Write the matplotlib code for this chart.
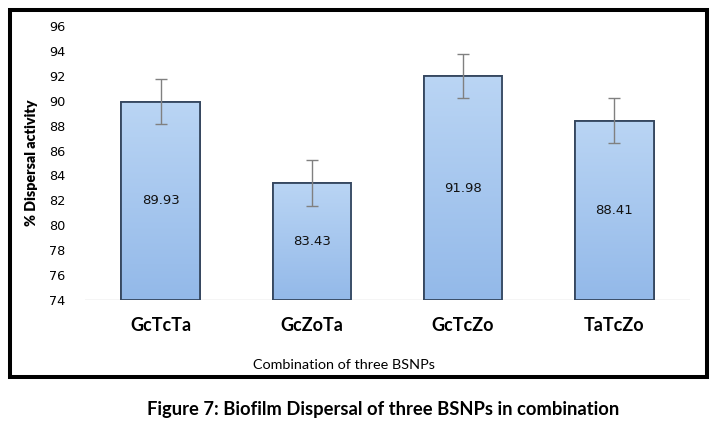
import matplotlib.pyplot as plt
import numpy as np
from matplotlib.colors import LinearSegmentedColormap
from matplotlib.patches import Rectangle

# data
categories = ["GcTcTa", "GcZoTa", "GcTcZo", "TaTcZo"]
dispersal = [89.93, 83.43, 91.98, 88.41]
errors = [1.8, 1.85, 1.8, 1.8]
y_ticks = [74, 76, 78, 80, 82, 84, 86, 88, 90, 92, 94, 96]

W, H = 716, 433


def main() -> None:
    fig = plt.figure(figsize=(W / 100, H / 100), dpi=100)
    ax = fig.add_axes([85 / W, 1 - 300 / H, 605 / W, 274 / H])

    x = np.arange(len(categories))
    bars = ax.bar(x, np.array(dispersal) - 74, bottom=74, width=0.52,
                  color="#a8c8ef", edgecolor="#34465e", linewidth=1.2, zorder=2)

    # soft vertical gradient inside each bar
    grad = np.linspace(0, 1, 256).reshape(-1, 1)
    cmap = LinearSegmentedColormap.from_list("b", ["#93b9e9", "#bad5f4"])
    for bar in bars:
        x0, y0 = bar.get_x(), bar.get_y()
        im = ax.imshow(grad, extent=[x0, x0 + bar.get_width(), y0, y0 + bar.get_height()],
                       cmap=cmap, aspect="auto", origin="lower", zorder=2.5)
        im.set_clip_path(bar)
        ax.add_patch(Rectangle((x0, y0), bar.get_width(), bar.get_height(), fill=False,
                               edgecolor="#34465e", linewidth=1.3, zorder=3))

    ax.errorbar(x, dispersal, yerr=errors, fmt="none", ecolor="#808080",
                elinewidth=1.0, capsize=4, capthick=1.0, zorder=4)

    for xi, v in zip(x, dispersal):
        ax.text(xi, (74 + v) / 2, f"{v:.2f}", ha="center", va="center",
                fontsize=9.5, family="DejaVu Sans", color="#111111", zorder=5)

    ax.set_xlim(-0.5, len(categories) - 0.5)
    ax.set_ylim(74, 96)
    ax.set_yticks(y_ticks)
    ax.set_yticklabels([str(t) for t in y_ticks], fontsize=9.3, family="DejaVu Sans")
    ax.set_xticks(x)
    ax.set_xticklabels(categories, fontsize=13, fontweight="bold", family="Lato")
    ax.tick_params(axis="both", length=0)
    ax.tick_params(axis="y", pad=14)
    ax.tick_params(axis="x", pad=12)
    for s in ax.spines.values():
        s.set_visible(False)
    ax.axhline(74, color="#d0d0d0", linewidth=1.0, zorder=1)

    fig.text(32 / W, 1 - 163 / H, "% Dispersal activity", rotation=90, ha="center",
             va="center", fontsize=10.3, fontweight="heavy", family="Lato")
    fig.text(344 / W, 1 - 365 / H, "Combination of three BSNPs", ha="center",
             va="center", fontsize=10.4, family="Lato")

    fig.patches.append(Rectangle((9.5 / W, 1 - 377 / H), 697 / W, 367 / H,
                                 transform=fig.transFigure, fill=False,
                                 edgecolor="black", linewidth=2.9))

    fig.text(383 / W, 1 - 410 / H, "Figure 7: Biofilm Dispersal of three BSNPs in combination",
             ha="center", va="center", fontsize=13.2, fontweight="bold", family="Lato")

    fig.savefig("out.png", dpi=100)


if __name__ == "__main__":
    main()
